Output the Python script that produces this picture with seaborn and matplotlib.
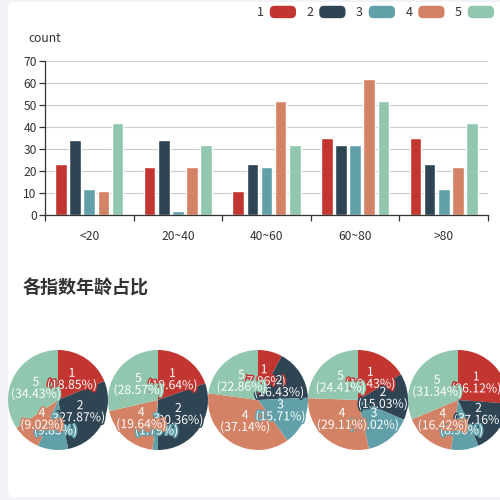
import numpy as np
import pandas as pd
import matplotlib
matplotlib.use('Agg')
import matplotlib.pyplot as plt
import matplotlib.patches as mpatches
import matplotlib.patheffects as pe
from matplotlib.legend_handler import HandlerPatch
from matplotlib.ticker import FixedLocator
import seaborn as sns

# 数据
ages = ['<20', '20~40', '40~60', '60~80', '>80']
series = ['1', '2', '3', '4', '5']
s1 = [23, 22, 11, 35, 35]
s2 = [34, 34, 23, 32, 23]
s3 = [12, 2, 22, 32, 12]
s4 = [11, 22, 52, 62, 22]
s5 = [42, 32, 32, 52, 42]
colors = ['#c23531', '#2f4554', '#61a0a8', '#d48265', '#91c7ae']
title = '各指数年龄占比'

all_series = [s1, s2, s3, s4, s5]
df = pd.DataFrame([
    {'age': a, 'series': name, 'count': vals[i]}
    for name, vals in zip(series, all_series)
    for i, a in enumerate(ages)
])

sns.set_style('white')
plt.rcParams['font.family'] = ['Noto Sans CJK SC', 'DejaVu Sans']
plt.rcParams['axes.unicode_minus'] = False

fig = plt.figure(figsize=(5, 5), dpi=100)
fig.patch.set_facecolor('#f2f3f8')
card = mpatches.FancyBboxPatch((0.016, 0.006), 1.2, 0.99,
                               boxstyle='round,pad=0,rounding_size=0.012',
                               transform=fig.transFigure, fc='white', ec='none', zorder=-5)
fig.patches.append(card)

# 柱状图
ax = fig.add_axes([45 / 500, 1 - 215 / 500, 443 / 500, 154 / 500])
ax.set_facecolor('none')
sns.barplot(data=df, x='age', y='count', hue='series', palette=colors,
            order=ages, hue_order=series, gap=0.18, width=0.8,
            saturation=1, legend=False, ax=ax)
ax.set_xlim(-0.5, len(ages) - 0.5)
ax.set_ylim(0, 70)
ax.set_yticks(range(0, 71, 10))
ax.yaxis.grid(True, color='#cccccc', linewidth=0.8)
ax.set_axisbelow(True)
ax.set_xlabel('')
ax.set_ylabel('')
for s in ['top', 'right']:
    ax.spines[s].set_visible(False)
for s in ['left', 'bottom']:
    ax.spines[s].set_color('#333333')
    ax.spines[s].set_linewidth(0.9)
ax.tick_params(axis='y', left=True, length=4, width=0.9, color='#333333',
               labelsize=8.7, labelcolor='#333333', pad=2)
ax.tick_params(axis='x', which='major', bottom=False, labelsize=8.7,
               labelcolor='#333333', pad=7)
ax.xaxis.set_minor_locator(FixedLocator(np.arange(-0.5, len(ages), 1.0)))
ax.tick_params(axis='x', which='minor', bottom=True, length=4, width=0.9,
               color='#333333')
fig.text(45 / 500, 1 - 38 / 500, 'count', ha='center', va='center',
         fontsize=8.7, color='#333333')


# 图例
class RoundHandler(HandlerPatch):
    def create_artists(self, legend, orig_handle, xdescent, ydescent,
                       width, height, fontsize, trans):
        p = mpatches.FancyBboxPatch((-xdescent, -ydescent), width, height,
                                    boxstyle='round,pad=0,rounding_size=3.5',
                                    fc=orig_handle.get_facecolor(), ec='none',
                                    transform=trans)
        return [p]


handles = [mpatches.Patch(facecolor=c) for c in colors]
fig.legend(handles, series, loc='center right', bbox_to_anchor=(0.988, 0.975),
           ncol=5, frameon=False, markerfirst=False, fontsize=9,
           handlelength=2.1, handleheight=1.15, handletextpad=0.45,
           columnspacing=0.85, borderpad=0, borderaxespad=0,
           handler_map={mpatches.Patch: RoundHandler()},
           labelcolor='#333333')

fig.text(23 / 500, 1 - 288 / 500, title, ha='left', va='center',
         fontsize=13, fontweight='bold', color='#333333')


# 饼图
def echarts_percent(vals, precision=2):
    total = sum(vals)
    digits = 10 ** precision
    quotas = [v / total * digits * 100 for v in vals]
    seats = [int(np.floor(q)) for q in quotas]
    rem = [q - s for q, s in zip(quotas, seats)]
    while sum(seats) < digits * 100:
        i = int(np.argmax(rem))
        seats[i] += 1
        rem[i] = -1
    return [s / digits for s in seats]


pax = fig.add_axes([0, 0, 1, 0.4])
for i, a in enumerate(ages):
    vals = [v[i] for v in all_series]
    pcts = echarts_percent(vals)
    wedges, _, autotexts = pax.pie(
        vals, colors=colors, startangle=90, counterclock=False,
        radius=50, center=(58 + 100 * i, 100), autopct='%1.2f%%',
        pctdistance=0.5, wedgeprops={'linewidth': 0},
        textprops={'color': 'white', 'fontsize': 8.8})
    for t, name, p, c in zip(autotexts, series, pcts, colors):
        t.set_text(f'{name}\n({p:.2f}%)')
        t.set_linespacing(0.9)
        t.set_path_effects([pe.withStroke(linewidth=2.2, foreground=c)])
pax.set_xlim(0, 500)
pax.set_ylim(0, 200)
pax.set_aspect('equal')
pax.axis('off')

fig.savefig('out.png', dpi=100, facecolor=fig.get_facecolor())
